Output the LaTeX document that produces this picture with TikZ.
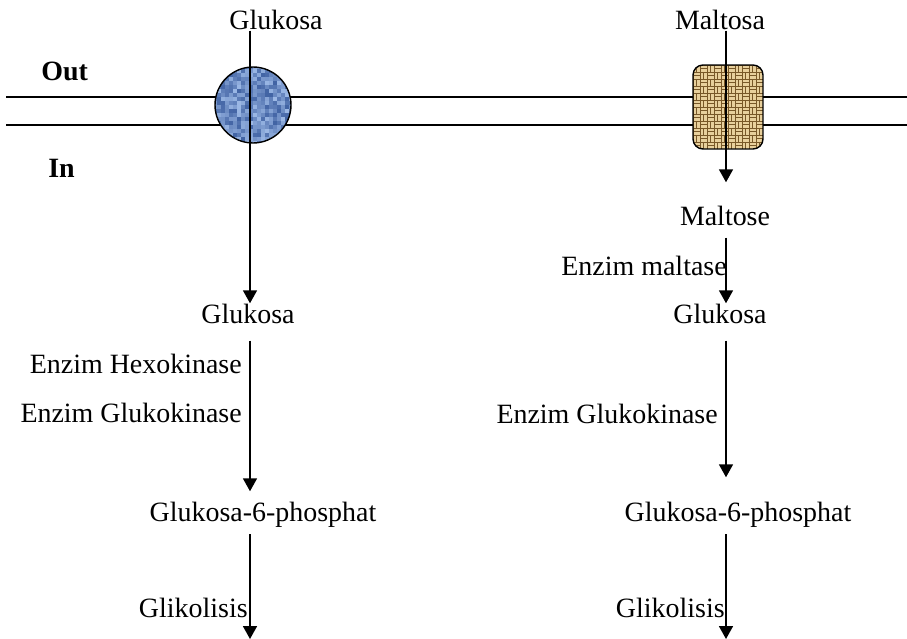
\documentclass[tikz,border=0pt]{standalone}
\usepackage{fontspec}
\setmainfont{Liberation Serif}
\usetikzlibrary{arrows.meta,positioning}

\definecolor{porebluelight}{RGB}{170,198,240}
\definecolor{porebluedark}{RGB}{40,75,145}
\definecolor{poretanlight}{RGB}{232,208,156}
\definecolor{poretandark}{RGB}{120,88,40}

\begin{document}
\begin{tikzpicture}[x=0.02cm,y=-0.02cm,
  every node/.style={inner sep=0pt,font=\fontsize{15.9}{19}\selectfont},
  lbl/.style={anchor=base},
  side/.style={anchor=base east},
  side label/.style={anchor=base west,font=\fontsize{15.9}{19}\selectfont\bfseries},
  flow/.style={line width=1pt,-{Triangle[width=0.28cm,length=0.26cm]}},
  membrane/.style={line width=0.8pt},
  outline/.style={line width=0.8pt},
  glupore/.style={circle,minimum size=1.52cm,outer sep=0pt},
  malpore/.style={rectangle,minimum width=1.4cm,minimum height=1.68cm,outer sep=0pt}]
\useasboundingbox (0,0) rectangle (907,639);

\coordinate (lx) at (250,0);
\coordinate (rx) at (726,0);

\node[lbl] (gout) at (276,30) {Glukosa};
\node[lbl] (mout) at (720,30) {Maltosa};
\node[side label] (out) at (41,80) {Out};
\node[side label] (in) at (48,177) {In};

% membrane
\coordinate (m1a) at (6,97);
\coordinate (m1b) at (907,97);
\coordinate (m2a) at (6,125);
\coordinate (m2b) at (907,125);
\draw[membrane] (m1a) -- (m1b);
\draw[membrane] (m2a) -- (m2b);
\node[glupore] (glp) at (253,105) {};
\node[malpore] (map) at (728,107) {};

% blue cloth of the glucose carrier
\pgfmathsetseed{11}
\begin{scope}[shift={(glp.center)}]
  \clip (0,0) circle[radius=0.76cm];
  \foreach \i in {-10,...,9}{
    \foreach \j in {-10,...,9}{
      \pgfmathtruncatemacro{\mix}{20+70*rnd}
      \fill[porebluelight!\mix!porebluedark] (\i*4,\j*4) rectangle ++(4,4);
    }}
\end{scope}
\draw[outline] (glp.center) circle[radius=0.76cm];

% woven mat of the maltose carrier
\begin{scope}[shift={(map.center)}]
  \clip[rounded corners=0.2cm] (-35,-42) rectangle (35,42);
  \fill[poretandark] (-35,-42) rectangle (35,42);
  \foreach \i in {-5,...,4}{
    \foreach \j in {-6,...,5}{
      \pgfmathtruncatemacro{\wv}{mod(\i+\j+20,2)}
      \ifnum\wv=0
        \fill[poretanlight] (\i*7+0.5,\j*7+0.5) rectangle ++(6,2.6);
        \fill[poretanlight] (\i*7+0.5,\j*7+3.9) rectangle ++(6,2.6);
      \else
        \fill[poretanlight] (\i*7+0.5,\j*7+0.5) rectangle ++(2.6,6);
        \fill[poretanlight] (\i*7+3.9,\j*7+0.5) rectangle ++(2.6,6);
      \fi
    }}
\end{scope}
\draw[outline,rounded corners=0.2cm] (map.south west) rectangle (map.north east);

% glukosa side
\node[lbl] (gin) at (248,323) {Glukosa};
\node[side] (hexo) at (242,373) {Enzim Hexokinase};
\node[side] (glukol) at (242,422) {Enzim Glukokinase};
\node[lbl] (gsixl) at (263,521) {Glukosa-6-phosphat};
\node[side] (glikl) at (248,617) {Glikolisis};
\coordinate (endl) at (250,639);

% maltosa side
\node[lbl] (maltose) at (725,225) {Maltose};
\node[side] (maltase) at (727,275) {Enzim maltase};
\node[lbl] (ginr) at (720,323) {Glukosa};
\node[side] (glukor) at (718,423) {Enzim Glukokinase};
\node[lbl] (gsixr) at (738,521) {Glukosa-6-phosphat};
\node[side] (glikr) at (725,617) {Glikolisis};
\coordinate (endr) at (726,639);

\draw[flow] (gout.south -| lx) -- (gin.north -| lx);
\draw[flow,shorten <=0.34cm,shorten >=0.2cm] (gin.south -| lx) -- (gsixl.north -| lx);
\draw[flow,shorten <=0.14cm] (gsixl.south -| lx) -- (endl);

\draw[flow,shorten >=0.46cm] (mout.south -| rx) -- (maltose.north -| rx);
\draw[flow,shorten <=0.24cm] (maltose.south -| rx) -- (ginr.north -| rx);
\draw[flow,shorten <=0.34cm,shorten >=0.48cm] (ginr.south -| rx) -- (gsixr.north -| rx);
\draw[flow,shorten <=0.14cm] (gsixr.south -| rx) -- (endr);
\end{tikzpicture}
\end{document}
